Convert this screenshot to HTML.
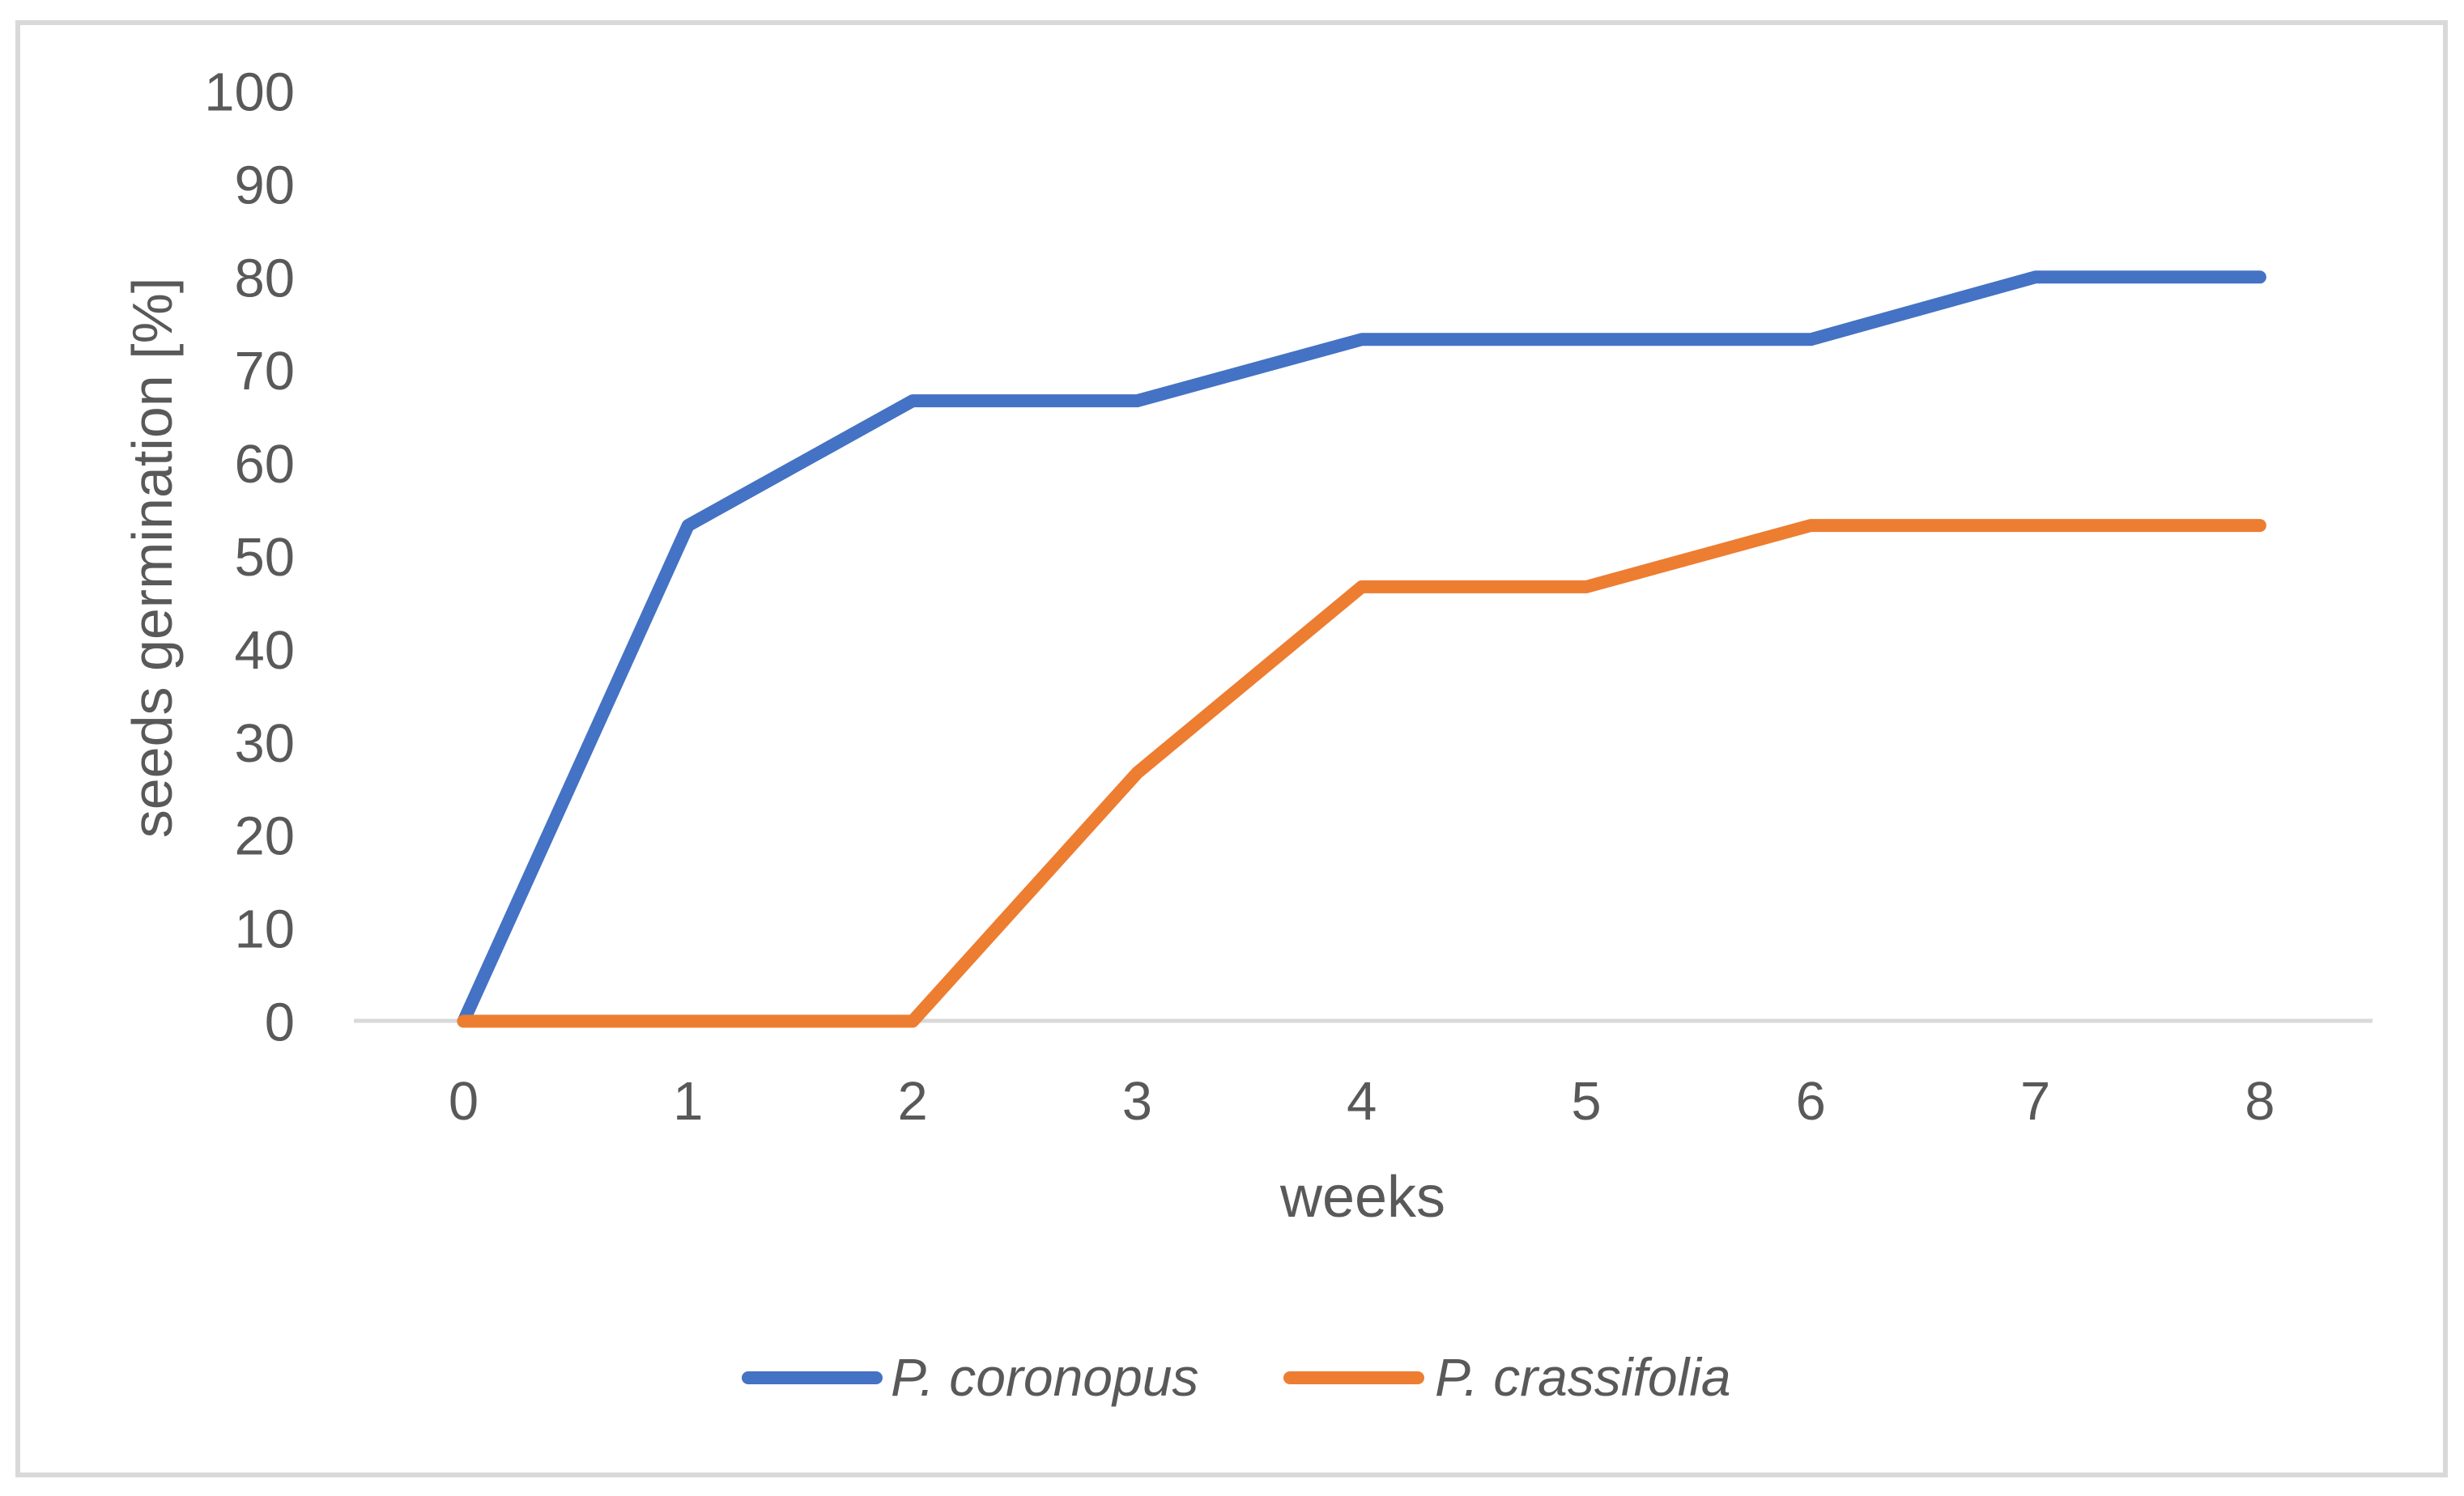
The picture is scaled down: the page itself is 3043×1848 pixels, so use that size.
<!DOCTYPE html>
<html><head><meta charset="utf-8"><style>
html,body{margin:0;padding:0;background:#fff;}
svg{display:block;font-family:"Liberation Sans",sans-serif;}
</style></head><body>
<svg id="chart" width="3043" height="1848" viewBox="0 0 3043 1848" xmlns="http://www.w3.org/2000/svg">
<rect x="22" y="28" width="2998" height="1794" fill="#fff" stroke="#d9d9d9" stroke-width="6"/>
<g id="yticks"></g><g id="xticks"></g>
<line x1="437" x2="2930" y1="1261" y2="1261" stroke="#d9d9d9" stroke-width="5"/>
<g id="series"></g>
<text transform="translate(212,689) rotate(-90)" text-anchor="middle" font-size="70" fill="#595959">seeds germination [%]</text>
<text x="1683" y="1503" text-anchor="middle" font-size="72" fill="#595959">weeks</text>
<g>
<g>
<line x1="924" x2="1082" y1="1702" y2="1702" stroke="#4472c4" stroke-width="16" stroke-linecap="round"/>
<text x="1100" y="1724" font-size="66" font-style="italic" fill="#595959">P. coronopus</text></g>
<g>
<line x1="1593" x2="1751" y1="1702" y2="1702" stroke="#ed7d31" stroke-width="16" stroke-linecap="round"/>
<text x="1772" y="1724" font-size="66" font-style="italic" fill="#595959">P. crassifolia</text></g>
</g>
</svg>
<script>
const weeks=[0,1,2,3,4,5,6,7,8];
const coronopus=[0,53.3,66.7,66.7,73.3,73.3,73.3,80,80];
const crassifolia=[0,0,0,26.7,46.7,46.7,53.3,53.3,53.3];
const yTicks=[0,10,20,30,40,50,60,70,80,90,100];
const NS='http://www.w3.org/2000/svg';
const xS=w=>572.5+w*277.3;
const yS=v=>1261.5-v*11.49;
const yt=document.getElementById('yticks');
yTicks.forEach(t=>{const e=document.createElementNS(NS,'text');


e.setAttribute('x',364);e.setAttribute('y',yS(t)+24);e.setAttribute('text-anchor','end');
e.setAttribute('font-size','67');e.setAttribute('fill','#595959');e.textContent=t;yt.appendChild(e);});
const xt=document.getElementById('xticks');
weeks.forEach(w=>{const e=document.createElementNS(NS,'text');


e.setAttribute('x',xS(w));e.setAttribute('y',1383);e.setAttribute('text-anchor','middle');
e.setAttribute('font-size','67');e.setAttribute('fill','#595959');e.textContent=w;xt.appendChild(e);});
const sg=document.getElementById('series');
[[coronopus,'#4472c4','line-coronopus'],[crassifolia,'#ed7d31','line-crassifolia']].forEach(([d,c,n])=>{
const p=document.createElementNS(NS,'polyline');


p.setAttribute('points',d.map((v,i)=>xS(weeks[i])+','+yS(v)).join(' '));
p.setAttribute('fill','none');p.setAttribute('stroke',c);p.setAttribute('stroke-width','16');
p.setAttribute('stroke-linecap','round');p.setAttribute('stroke-linejoin','round');sg.appendChild(p);});
</script>
</body></html>
